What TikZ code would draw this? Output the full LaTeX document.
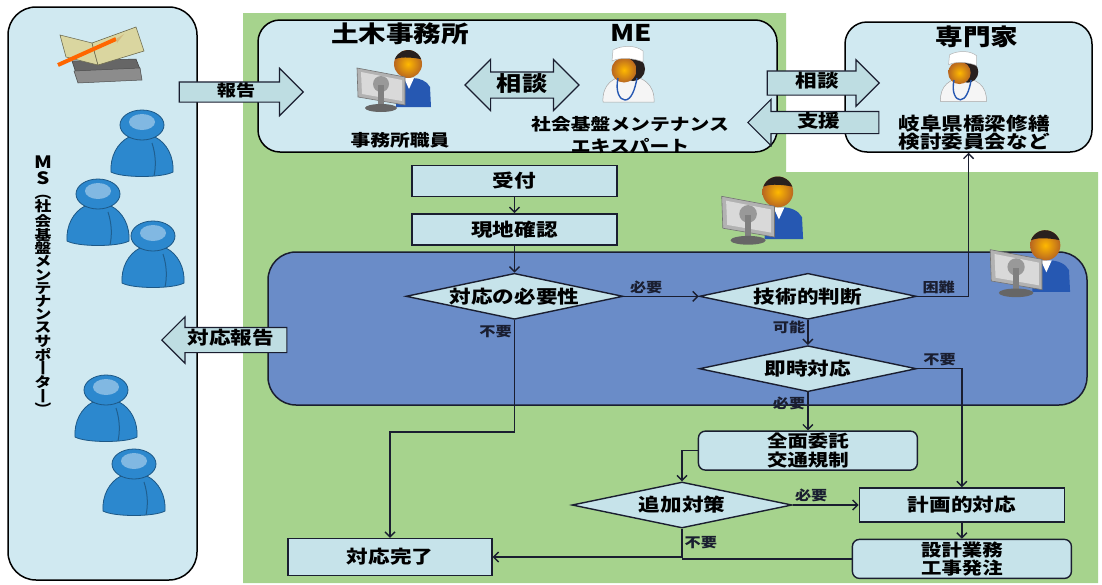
\documentclass[tikz,border=0pt]{standalone}
\usepackage{fontspec}
\setmainfont{Noto Sans CJK JP}[FakeStretch=1.2]
\usetikzlibrary{positioning,arrows.meta,shapes.geometric,shapes.arrows}

\definecolor{field}{RGB}{166,211,141}
\definecolor{pale}{RGB}{208,233,241}
\definecolor{boxfill}{RGB}{198,227,234}
\definecolor{panel}{RGB}{106,140,200}
\definecolor{ink}{RGB}{26,30,48}
\definecolor{tube}{RGB}{190,221,226}
\definecolor{skin}{RGB}{230,128,40}
\definecolor{hair}{RGB}{40,32,30}
\definecolor{suit}{RGB}{38,88,178}
\definecolor{figblue}{RGB}{44,136,206}
\definecolor{page}{RGB}{218,214,160}

\begin{document}
\begin{tikzpicture}[
        x=1pt, y=-1pt,
        font=\bfseries,
        node distance=16pt and 75pt,
        flow/.style={-{Straight Barb[length=5pt,width=10pt]}, line width=1.4pt, draw=ink},
        tie/.style={line width=1.4pt, draw=ink},
        group/.style={rectangle, draw=black, fill=pale, line width=1.5pt, rounded corners=22pt},
        stepbox/.style={
            rectangle,
            draw=ink,
            fill=boxfill,
            line width=1.4pt,
            inner sep=0pt,
            minimum width=205pt,
            minimum height=31pt,
            font=\bfseries\fontsize{18}{20}\selectfont
        },
        roundbox/.style={
            stepbox,
            rounded corners=7pt,
            align=center,
            minimum width=219pt,
            minimum height=39pt,
            font=\bfseries\fontsize{17}{18.5}\selectfont
        },
        decision/.style={
            diamond,
            aspect=4.7,
            draw=ink,
            fill=boxfill,
            line width=1.4pt,
            inner sep=0pt,
            minimum width=217pt,
            minimum height=46pt,
            font=\bfseries\fontsize{18}{20}\selectfont
        },
        answer/.style={font=\bfseries\fontsize{13.5}{15}\selectfont, inner sep=2pt, text=ink},
        title/.style={font=\bfseries\fontsize{23}{25}\selectfont, inner sep=0pt},
        caption/.style={font=\bfseries\fontsize{16.5}{22}\selectfont, align=center, inner sep=0pt},
        bigarrow/.style={
            single arrow,
            draw=ink,
            fill=tube,
            line width=1.2pt,
            inner xsep=3pt,
            inner ysep=2pt,
            text height=12pt,
            text depth=3pt,
            font=\bfseries\fontsize{16}{18}\selectfont
        },
        clerk/.pic={
            \fill[suit] (16,22) -- (17,2) .. controls (20,-10) and (44,-10) .. (50,2) -- (51,22) -- cycle;
            \fill[white] (24,-7) -- (34,-7) -- (29,4) -- cycle;
            \shade[inner color=orange!55!yellow, outer color=skin!80!black] (28,-21) circle[radius=14];
            \fill[hair] (28,-21) ++(200:14) arc[start angle=200, end angle=340, radius=14]
                .. controls (36,-27) and (22,-29) .. cycle;
            \filldraw[fill=black!30, draw=black!55, line width=0.6pt] (-23,-17) -- (25,-8) -- (25,20) -- (-22,12) -- cycle;
            \fill[black!15] (-19,-13) -- (22,-5) -- (22,16) -- (-18,9) -- cycle;
            \fill[black!40] (1,-1) circle[radius=8];
            \fill[black!50] (-2,0) rectangle (4,21);
            \fill[black!60] (1,23) ellipse[x radius=16, y radius=4];
        },
        doctor/.pic={
            \filldraw[fill=black!4, draw=black!35, line width=0.5pt] (-25,24) .. controls (-26,6) and (-14,-2) .. (0,-2)
                .. controls (14,-2) and (27,6) .. (26,24) -- cycle;
            \fill[hair] (5,-9) circle[radius=12];
            \shade[inner color=orange!55!yellow, outer color=skin!80!black] (-4,-8) circle[radius=12.5];
            \filldraw[fill=white, draw=black!30, line width=0.5pt] (-16,-17) -- (-15,-28) .. controls (-6,-33) and (8,-33) .. (15,-27)
                -- (15,-16) .. controls (6,-20) and (-8,-21) .. cycle;
            \draw[suit, line width=1.4pt] (-10,0) .. controls (-13,14) and (-8,22) .. (-3,22) .. controls (3,22) and (7,12) .. (9,0);
        },
        notes/.pic={
            \filldraw[fill=black!60, draw=black!75, line width=0.5pt] (-28,8) -- (36,6) -- (40,16) -- (-24,20) -- cycle;
            \filldraw[fill=black!45, draw=black!70, line width=0.5pt] (-26,18) -- (40,15) -- (42,27) -- (-22,30) -- cycle;
            \filldraw[fill=page, draw=page!50!black, line width=0.6pt] (-40,-18) -- (-8,-10) -- (-2,12) -- (-34,4) -- cycle;
            \filldraw[fill=page, draw=page!50!black, line width=0.6pt] (-8,-10) -- (36,-26) -- (44,-2) -- (-2,12) -- cycle;
            \draw[orange!80!red, line width=4pt] (-42,12) -- (16,-14);
            \fill[page!70!brown] (16,-14) -- (24,-19) -- (17,-10) -- cycle;
        },
        member/.pic={
            \filldraw[fill=figblue, draw=figblue!65!black, line width=0.8pt]
                (-13,-6) .. controls (-25,0) and (-32,14) .. (-31,29)
                .. controls (-20,35) and (20,35) .. (31,29)
                .. controls (32,14) and (25,0) .. (13,-6) -- cycle;
            \draw[figblue!70!black, line width=1pt] (10,0) .. controls (14,12) and (14,24) .. (12,33);
            \filldraw[fill=figblue, draw=figblue!65!black, line width=0.8pt] (0,-18) ellipse[x radius=22, y radius=15];
            \fill[figblue!60!white] (0,-21) ellipse[x radius=13, y radius=8];
        }
    ]

    \useasboundingbox (0,0) rectangle (1102,584);
    \fill[white] (0,0) rectangle (1102,584);
    \fill[field] (243,13) -- (786,13) -- (786,172) -- (1098,172) -- (1098,583) -- (243,583) -- cycle;

    \node[group, rounded corners=28pt, minimum width=189pt, minimum height=573pt] (supporters) at (102.5,293.5) {};
    \node[group, minimum width=519pt, minimum height=132pt] (office) at (517.5,86) {};
    \node[group, minimum width=247pt, minimum height=130pt] (expert) at (968.5,87) {};
    \node[group, draw=ink, fill=panel, rounded corners=28pt, minimum width=819pt, minimum height=153pt] (desk) at (677.5,328.5) {};

    \pic at (100,53) {notes};
    \pic at (142,143) {member};
    \pic at (98,212) {member};
    \pic at (153,254) {member};
    \pic at (106,408) {member};
    \pic at (134,482) {member};
    \node[font=\bfseries\fontsize{14}{13.2}\selectfont, align=center, inner sep=0pt, anchor=north] (mslabel) at (43,156)
        {{\fontsize{17}{13}\selectfont M}\\[2.5pt]{\fontsize{17}{13}\selectfont S}\\[1pt]︵\\社\\会\\基\\盤\\メ\\ン\\テ\\ナ\\ン\\ス\\サ\\ポ\\丨\\タ\\丨\\︶};

    \node[title] (officename) at (400,34) {土木事務所};
    \node[title] (mename) at (631,33) {ME};
    \node[title] (expertname) at (977,37) {専門家};
    \pic at (380,85) {clerk};
    \pic at (628,78) {doctor};
    \pic[scale=0.9] at (963,80) {doctor};
    \node[caption] (staff) at (400,140) {事務所職員};
    \node[caption] (mecaption) at (630,135) {社会基盤メンテナンス\\エキスパート};
    \node[caption, font=\bfseries\fontsize{18}{17}\selectfont] (committee) at (974,132.5) {岐阜県橋梁修繕\\検討委員会など};

    \pic[scale=1.1] at (747,215) {clerk};
    \pic[scale=1.08] at (1015,268) {clerk};

    \node[stepbox] (intake) at (514.5,181) {受付};
    \node[stepbox, below=of intake] (survey) {現地確認};
    \node[decision, below=27pt of survey] (need) {対応の必要性};
    \node[decision, right=of need] (tech) {技術的判断};
    \node[decision, below=25pt of tech] (prompt) {即時対応};
    \node[roundbox, below=38pt of prompt] (contract) {全面委託\\交通規制};
    \node[decision, minimum width=220pt] (extra) at (682,505) {追加対策};
    \node[stepbox, minimum height=34pt, right=66pt of extra] (planned) {計画的対応};
    \node[roundbox, below=16pt of planned] (order) {設計業務\\工事発注};
    \node[stepbox, minimum width=204pt, minimum height=37pt] (done) at (390,557) {対応完了};

    \draw[flow] (intake) -- (survey);
    \draw[flow] (survey) -- (need);
    \draw[flow] (need) -- node[answer, above, pos=0.3] {必要} (tech);
    \draw[flow] (tech.east) -| node[answer, above, pos=0.21] {困難} (expert.south);
    \draw[flow] (tech) -- node[answer, left, pos=0.3] {可能} (prompt);
    \draw[flow] (prompt.east) -| node[answer, above, pos=0.25] {不要} (planned.north);
    \draw[flow] (prompt) -- node[answer, left, pos=0.3] {必要} (contract);
    \draw[flow] (need.south) -- node[answer, left, pos=0.1] {不要} ++(0,112) -| (done.north);
    \draw[flow] (contract.west) -| (extra.north);
    \draw[flow] (extra) -- node[answer, above, pos=0.28] {必要} (planned);
    \draw[flow] (planned) -- (order);
    \draw[flow] (extra.south) |- node[answer, right, pos=0.25] {不要} (done.east);
    \draw[tie] (order.west) -- (extra.south |- order.west);

    \node[bigarrow, anchor=tip, minimum height=124pt, single arrow head extend=13.5pt] (report) at (304,92) {報告};
    \node[bigarrow, double arrow, double arrow head extend=12.5pt, minimum height=114pt, inner ysep=3pt,
        text height=16pt, text depth=3pt, font=\bfseries\fontsize{21}{22}\selectfont] (talk) at (522,85) {相談};
    \node[bigarrow, anchor=tip, minimum height=112pt, single arrow head extend=11pt, inner ysep=4pt,
        font=\bfseries\fontsize{18}{20}\selectfont] (ask) at (880,83) {相談};
    \node[bigarrow, shape border rotate=180, anchor=tip, minimum height=131pt, single arrow head extend=12pt,
        inner ysep=3pt, font=\bfseries\fontsize{18}{20}\selectfont] (support) at (747,122.5) {支援};
    \node[bigarrow, shape border rotate=180, anchor=tip, minimum height=125pt, single arrow head extend=10.5pt,
        inner ysep=4.5pt, font=\bfseries\fontsize{18}{20}\selectfont] (feedback) at (161,340) {対応報告};

\end{tikzpicture}
\end{document}
